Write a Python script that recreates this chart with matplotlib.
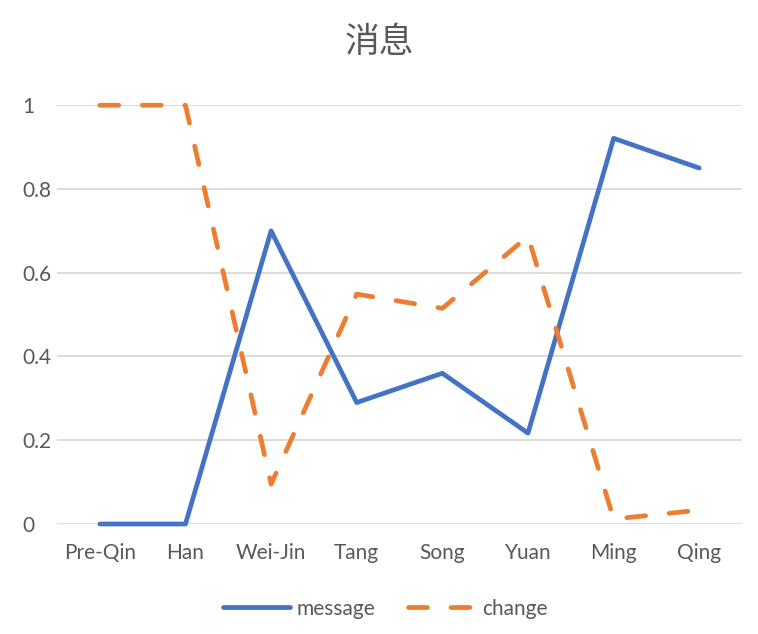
import matplotlib
matplotlib.use("Agg")
import matplotlib.pyplot as plt
from matplotlib.lines import Line2D

categories = ["Pre-Qin", "Han", "Wei-Jin", "Tang", "Song", "Yuan", "Ming", "Qing"]
message = [0, 0, 0.70, 0.29, 0.36, 0.217, 0.921, 0.85]
change = [1, 1, 0.095, 0.549, 0.515, 0.687, 0.012, 0.033]
yticks = [0, 0.2, 0.4, 0.6, 0.8, 1]
ytick_labels = ["0", "0.2", "0.4", "0.6", "0.8", "1"]
title = "消息"

plt.rcParams['font.family'] = ['Lato', 'Noto Sans CJK SC', 'DejaVu Sans']
grey = "#595959"
blue = "#4472C4"
orange = "#ED7D31"

fig = plt.figure(figsize=(7.58, 6.34), dpi=100)
ax = fig.add_axes([0.0752, 0.1735, 0.9038, 0.6605])
x = list(range(len(categories)))
lw = 3.4
dash = (4.0, 5.0)
ax.plot(x, message, color=blue, lw=lw, solid_capstyle="round", solid_joinstyle="round",
        clip_on=False, zorder=3, label="message")
ax.plot(x, change, color=orange, lw=lw, dashes=dash, dash_capstyle="round",
        dash_joinstyle="round", clip_on=False, zorder=3, label="change")
ax.set_xlim(-0.5, len(categories) - 0.5)
ax.set_ylim(0, 1)
ax.set_yticks(yticks)
ax.set_yticklabels(ytick_labels)
ax.set_xticks(x)
ax.set_xticklabels(categories)
ax.grid(axis="y", color="#D9D9D9", lw=1.3)
ax.set_axisbelow(True)
for s in ax.spines.values():
    s.set_visible(False)
ax.tick_params(axis="both", length=0, labelsize=15, colors=grey)
ax.tick_params(axis="x", pad=14)
ax.tick_params(axis="y", pad=25)
for lab in ax.get_yticklabels():
    lab.set_horizontalalignment("left")

fig.text(0.5, 0.934, title, ha="center", va="center", fontsize=25, color=grey)

handles = [Line2D([], [], color=blue, lw=lw, solid_capstyle="round"),
           Line2D([], [], color=orange, lw=lw, dashes=dash, dash_capstyle="round")]
fig.legend(handles, ["message", "change"], loc="center", bbox_to_anchor=(0.508, 0.040),
           ncol=2, frameon=False, fontsize=15, labelcolor=grey, handlelength=3.2,
           handletextpad=0.35, columnspacing=1.55)

fig.savefig("out.png", dpi=100)
